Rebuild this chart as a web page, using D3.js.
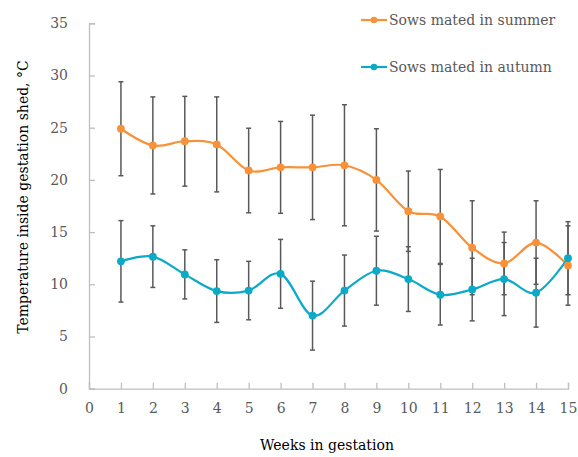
<!DOCTYPE html>
<html>
<head>
<meta charset="utf-8">
<script src="https://cdn.jsdelivr.net/npm/d3@7"></script>
<style>
  body { margin: 0; background: #fff; }
  text { font-family: "DejaVu Serif", "Liberation Serif", serif; }
</style>
</head>
<body>
<svg id="chart" width="578" height="457"></svg>
<script>
const weeks = [1,2,3,4,5,6,7,8,9,10,11,12,13,14,15];
const summerMean = [24.9,23.3,23.7,23.4,20.9,21.2,21.2,21.4,20.0,17.0,16.5,13.5,12.0,14.0,11.8];
const summerErr  = [4.5,4.65,4.3,4.55,4.05,4.4,5.0,5.8,4.9,3.85,4.5,4.5,3.0,4.0,3.8];
const autumnMean = [12.2,12.65,10.95,9.35,9.4,11.0,7.0,9.4,11.3,10.5,9.0,9.5,10.5,9.2,12.5];
const autumnErr  = [3.9,2.95,2.35,3.0,2.8,3.3,3.3,3.4,3.3,3.1,2.9,3.0,3.5,3.3,3.5];
const xTicks = d3.range(0,16);
const yTicks = [0,5,10,15,20,25,30,35];
const seriesNames = ["Sows mated in summer","Sows mated in autumn"];
const seriesColors = ["#F7923A","#0AAAC8"];

const svg = d3.select("#chart");
const x = d3.scaleLinear().domain([0,15]).range([89,568]);
const y = d3.scaleLinear().domain([0,35]).range([388.7,23.3]);
const axisColor = "#BFBFBF";
const labelColor = "#595959";

// axes
const xAxis = svg.append("g").attr("transform",`translate(0,${y(0)})`)
  .call(d3.axisBottom(x).tickValues(xTicks).tickSize(-6).tickPadding(14).tickFormat(d3.format("d")));
const yAxis = svg.append("g").attr("transform",`translate(${x(0)},0)`)
  .call(d3.axisLeft(y).tickValues(yTicks).tickSize(-6).tickPadding(21).tickFormat(d3.format("d")));
[xAxis,yAxis].forEach(g=>{
  g.select(".domain").attr("stroke",axisColor).attr("stroke-width",1.3);
  g.selectAll(".tick line").attr("stroke",axisColor).attr("stroke-width",1.3);
  g.selectAll(".tick text").attr("fill",labelColor).style("font-size","14px")
   .style("font-family","'DejaVu Serif', serif");
});

// axis titles
svg.append("text").attr("x",327).attr("y",450).attr("text-anchor","middle")
  .style("font-size","14px").attr("fill","#000").text("Weeks in gestation");
svg.append("text").attr("transform","translate(28,197) rotate(-90)").attr("text-anchor","middle")
  .style("font-size","14px").attr("fill","#000").text("Temperature inside gestation shed, °C");

const line = d3.line().x((d,i)=>x(weeks[i])).y(d=>y(d)).curve(d3.curveCardinal.tension(0));

const series = [[summerMean,summerErr],[autumnMean,autumnErr]];
series.forEach(([m,e],s)=>{
  svg.append("path").datum(m).attr("d",line).attr("fill","none")
    .attr("stroke",seriesColors[s]).attr("stroke-width",2.2);
});
series.forEach(([m,e],s)=>{
  const g = svg.append("g").attr("stroke","#595959").attr("stroke-width",1.5);
  m.forEach((d,i)=>{
    const cx = x(weeks[i]);
    g.append("line").attr("x1",cx).attr("x2",cx).attr("y1",y(d+e[i])).attr("y2",y(d-e[i]));
    g.append("line").attr("x1",cx-2.5).attr("x2",cx+2.5).attr("y1",y(d+e[i])).attr("y2",y(d+e[i]));
    g.append("line").attr("x1",cx-2.5).attr("x2",cx+2.5).attr("y1",y(d-e[i])).attr("y2",y(d-e[i]));
  });
});
series.forEach(([m,e],s)=>{
  svg.append("g").selectAll("circle").data(m).join("circle")
    .attr("cx",(d,i)=>x(weeks[i])).attr("cy",d=>y(d)).attr("r",3.9).attr("fill",seriesColors[s]);
});

// legend
const legY = [20,67];
seriesNames.forEach((n,s)=>{
  const g = svg.append("g");
  g.append("line").attr("x1",361).attr("x2",387).attr("y1",legY[s]).attr("y2",legY[s])
    .attr("stroke",seriesColors[s]).attr("stroke-width",2.2);
  g.append("circle").attr("cx",374).attr("cy",legY[s]).attr("r",3.3).attr("fill",seriesColors[s]);
  g.append("text").attr("x",389).attr("y",legY[s]+5).style("font-size","14px").attr("fill",labelColor).text(n);
});
</script>
</body>
</html>
